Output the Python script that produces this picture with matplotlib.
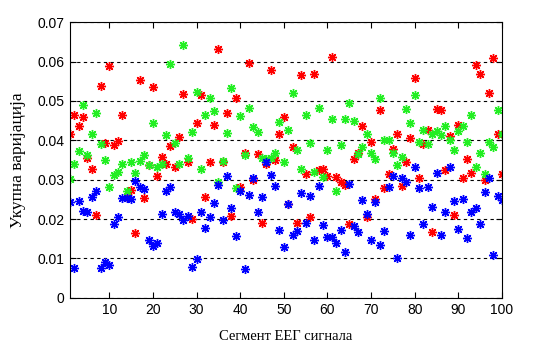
import numpy as np
import matplotlib
matplotlib.use('Agg')
import matplotlib.pyplot as plt

# segment index 1..100
segments = np.arange(1, 101)

# total variation per segment (x 1e-3)
red_vals = [41.5, 46.5, 43.6, 45.9, 35.4, 32.7, 21.0, 53.9, 39.3, 58.9,
            38.8, 39.8, 46.5, 25.7, 27.4, 16.4, 55.3, 25.3, 33.6, 53.5,
            31.0, 35.8, 34.0, 38.5, 33.1, 40.9, 51.8, 34.6, 20.1, 44.3,
            51.6, 25.7, 34.6, 44.0, 63.2, 34.6, 47.0, 20.7, 50.8, 28.2,
            36.7, 59.7, 29.8, 36.4, 19.0, 34.0, 57.9, 34.9, 41.7, 46.0,
            23.8, 38.2, 19.0, 56.7, 31.5, 20.5, 56.8, 32.5, 32.7, 31.0,
            61.1, 30.6, 29.5, 28.7, 18.8, 35.2, 36.9, 43.7, 20.4, 39.6,
            25.1, 47.6, 28.0, 31.5, 37.8, 41.6, 28.5, 34.6, 40.5, 55.9,
            30.4, 39.0, 42.6, 16.7, 47.9, 47.6, 32.5, 41.1, 21.1, 43.8,
            30.4, 35.2, 31.6, 59.2, 56.9, 29.9, 51.9, 61.0, 41.5, 31.4]

green_vals = [30.1, 34.1, 37.3, 49.1, 36.3, 41.7, 47.0, 39.0, 35.1, 28.2,
              31.2, 31.9, 33.9, 27.0, 34.5, 31.8, 34.7, 36.3, 33.8, 44.5,
              33.1, 33.9, 41.3, 59.5, 39.4, 34.0, 64.2, 35.4, 42.0, 52.4,
              32.6, 46.4, 50.8, 47.5, 29.3, 34.7, 41.8, 53.3, 27.8, 46.2,
              36.3, 48.1, 43.4, 42.0, 35.4, 35.2, 35.4, 36.7, 44.7, 34.6,
              42.6, 51.9, 37.5, 32.6, 46.5, 39.4, 31.9, 48.1, 30.7, 37.5,
              45.5, 27.2, 38.8, 45.4, 49.6, 44.9, 36.5, 38.2, 41.5, 36.7,
              35.2, 50.8, 40.2, 40.2, 36.8, 33.7, 35.8, 47.9, 44.5, 51.6,
              39.5, 42.7, 39.0, 41.5, 42.3, 41.3, 43.6, 40.2, 37.5, 42.3,
              43.6, 39.5, 46.4, 33.3, 36.8, 31.4, 39.5, 38.2, 47.6, 41.7]

blue_vals = [24.3, 7.6, 24.6, 22.1, 21.8, 25.5, 27.0, 7.6, 9.1, 8.4,
             18.7, 20.5, 25.3, 25.3, 25.1, 29.7, 28.2, 27.5, 14.7, 13.1,
             13.9, 21.2, 27.0, 28.2, 21.8, 21.3, 19.8, 20.7, 7.8, 9.9,
             21.8, 17.7, 20.5, 24.0, 28.7, 19.8, 30.9, 22.8, 15.6, 27.0,
             7.2, 26.1, 30.4, 21.8, 25.7, 34.6, 31.2, 28.5, 17.3, 12.8,
             23.8, 16.0, 16.9, 26.6, 19.0, 25.9, 14.6, 28.4, 18.4, 15.4,
             15.4, 13.9, 17.3, 11.6, 28.8, 18.1, 16.7, 24.8, 21.2, 14.6,
             24.3, 13.5, 17.0, 28.2, 31.0, 10.1, 30.4, 29.5, 15.9, 33.1,
             28.0, 18.7, 28.2, 23.0, 31.6, 16.0, 21.8, 33.1, 24.5, 17.5,
             25.0, 15.2, 21.9, 22.8, 18.7, 26.8, 30.4, 10.8, 25.9, 24.9]

red = np.array(red_vals) / 1000
green = np.array(green_vals) / 1000
blue = np.array(blue_vals) / 1000

fig = plt.figure(figsize=(5.59, 3.56), dpi=100)
ax = fig.add_axes([0.1252, 0.1638, 0.7728, 0.7736])

star = (8, 2, 0)  # matlab style asterisk
ax.plot(segments, red, linestyle='none', marker=star, color='#ff0000', markersize=6.5, mew=1.0)
ax.plot(segments, green, linestyle='none', marker=star, color='#22ee22', markersize=6.5, mew=1.0)
ax.plot(segments, blue, linestyle='none', marker=star, color='#0000ff', markersize=6.5, mew=1.0)

ax.set_xlim(1, 100)
ax.set_ylim(0, 0.07)
ax.set_xticks(np.arange(10, 101, 10))
ax.set_yticks(np.arange(0, 0.071, 0.01))
ax.set_yticklabels(['0', '0.01', '0.02', '0.03', '0.04', '0.05', '0.06', '0.07'])
ax.yaxis.grid(True, linestyle=(0, (3, 3)), color='black', linewidth=0.8)
ax.set_axisbelow(True)
ax.tick_params(direction='in', top=True, right=True, length=4, width=0.8,
               labelsize=10, pad=4)
for lbl in ax.get_xticklabels() + ax.get_yticklabels():
    lbl.set_fontfamily('Liberation Sans')
for s in ax.spines.values():
    s.set_linewidth(0.8)

ax.set_xlabel('Сегмент ЕЕГ сигнала', fontfamily='Liberation Serif', fontsize=10.5, labelpad=9)
ax.set_ylabel('Укупна варијација', fontfamily='Liberation Serif', fontsize=12.5, labelpad=8)

fig.savefig('out.png', dpi=100)
